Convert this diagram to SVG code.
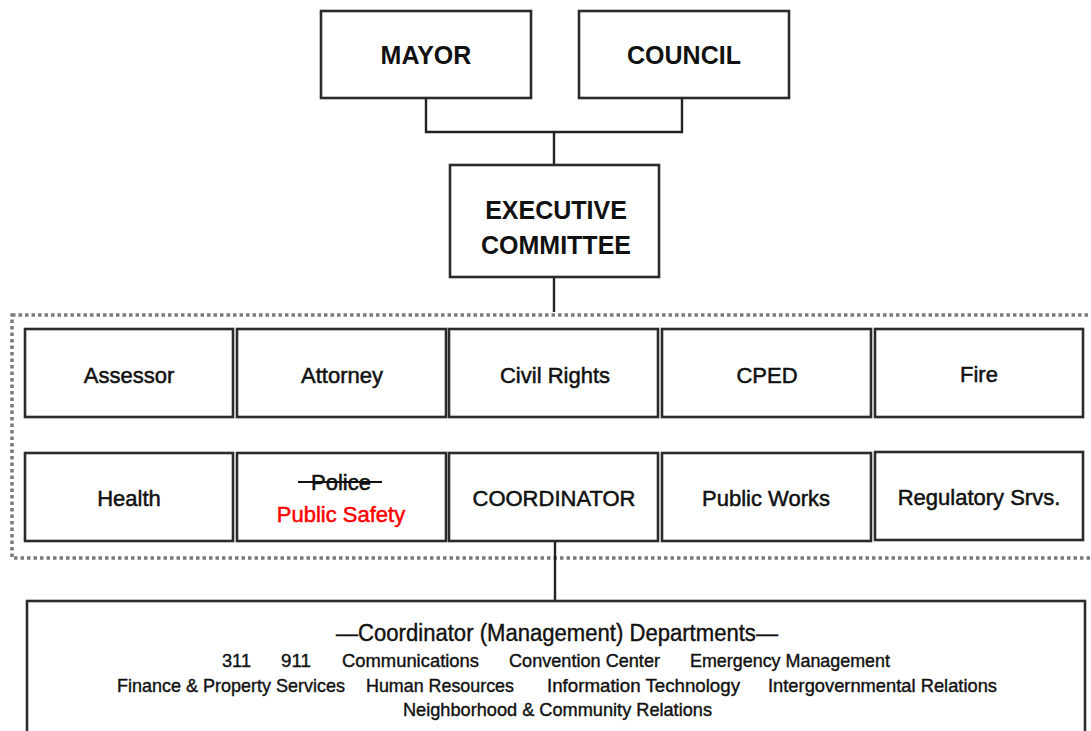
<svg xmlns="http://www.w3.org/2000/svg" width="1091" height="731" viewBox="0 0 1091 731">
<style>
.box{fill:#fff;stroke:#2b2b2b;stroke-width:2.6}
.conn{fill:none;stroke:#222;stroke-width:2.4}
.t{font-family:"Liberation Sans",Arial,sans-serif;font-size:22px;fill:#111;stroke:#111;stroke-width:0.5;text-anchor:middle}
.tb{font-family:"Liberation Sans",Arial,sans-serif;font-size:25px;font-weight:bold;fill:#111;text-anchor:middle}
.c{font-family:"Liberation Sans",Arial,sans-serif;font-size:19px;fill:#111;stroke:#111;stroke-width:0.4;text-anchor:start}
.ct{font-family:"Liberation Sans",Arial,sans-serif;font-size:23px;fill:#111;stroke:#111;stroke-width:0.4;text-anchor:start}
</style>
<rect width="1091" height="731" fill="#fff"/>
<rect x="12" y="315" width="1100" height="243" fill="none" stroke="#7a7a7a" stroke-width="3.5" stroke-dasharray="3.5 3"/>
<g id="connectors">
<polyline class="conn" points="426,98 426,132 682,132 682,98"/>
<line class="conn" x1="554" y1="132" x2="554" y2="165"/>
<line class="conn" x1="554" y1="277" x2="554" y2="312"/>
<line class="conn" x1="555" y1="541" x2="555" y2="601"/>
</g>
<g id="mayor"><rect class="box" x="321" y="11" width="210" height="87"/><text class="tb" x="426" y="64">MAYOR</text></g>
<g id="council"><rect class="box" x="579" y="11" width="210" height="87"/><text class="tb" x="684" y="64">COUNCIL</text></g>
<g id="exec"><rect class="box" x="450" y="165" width="209" height="112"/><text class="tb" x="556" y="219">EXECUTIVE</text><text class="tb" x="556" y="254">COMMITTEE</text></g>
<g id="assessor"><rect class="box" x="25" y="329" width="208" height="88"/><text class="t" x="129" y="383">Assessor</text></g>
<g id="attorney"><rect class="box" x="237" y="329" width="209" height="88"/><text class="t" x="342" y="383">Attorney</text></g>
<g id="civil"><rect class="box" x="449" y="329" width="209" height="88"/><text class="t" x="555" y="383">Civil Rights</text></g>
<g id="cped"><rect class="box" x="662" y="329" width="209" height="88"/><text class="t" x="767" y="383">CPED</text></g>
<g id="fire"><rect class="box" x="875" y="329" width="208" height="88"/><text class="t" x="979" y="382">Fire</text></g>
<g id="health"><rect class="box" x="25" y="453" width="208" height="88"/><text class="t" x="129" y="506">Health</text></g>
<g id="police"><rect class="box" x="237" y="453" width="209" height="88"/><text class="t" x="341" y="490">Police</text><line x1="298" y1="482" x2="382" y2="482" stroke="#111" stroke-width="2"/><text class="t" x="341" y="522" style="fill:#f00;stroke:#f00">Public Safety</text></g>
<g id="coordinator"><rect class="box" x="449" y="453" width="209" height="88"/><text class="t" x="554" y="506">COORDINATOR</text></g>
<g id="publicworks"><rect class="box" x="662" y="453" width="209" height="88"/><text class="t" x="766" y="506">Public Works</text></g>
<g id="regulatory"><rect class="box" x="875" y="452" width="208" height="88"/><text class="t" x="979" y="505">Regulatory Srvs.</text></g>
<g id="coorddepts">
<rect class="box" x="27" y="601" width="1058" height="150"/>
<text class="ct" x="336" y="641" textLength="442" lengthAdjust="spacingAndGlyphs">—Coordinator (Management) Departments—</text>
<text class="c" x="222" y="667" textLength="29" lengthAdjust="spacingAndGlyphs">311</text>
<text class="c" x="281" y="667" textLength="30" lengthAdjust="spacingAndGlyphs">911</text>
<text class="c" x="342" y="667" textLength="137" lengthAdjust="spacingAndGlyphs">Communications</text>
<text class="c" x="509" y="667" textLength="151" lengthAdjust="spacingAndGlyphs">Convention Center</text>
<text class="c" x="690" y="667" textLength="200" lengthAdjust="spacingAndGlyphs">Emergency Management</text>
<text class="c" x="117" y="692" textLength="228" lengthAdjust="spacingAndGlyphs">Finance &amp; Property Services</text>
<text class="c" x="366" y="692" textLength="148" lengthAdjust="spacingAndGlyphs">Human Resources</text>
<text class="c" x="547" y="692" textLength="193" lengthAdjust="spacingAndGlyphs">Information Technology</text>
<text class="c" x="768" y="692" textLength="229" lengthAdjust="spacingAndGlyphs">Intergovernmental Relations</text>
<text class="c" x="403" y="716" textLength="309" lengthAdjust="spacingAndGlyphs">Neighborhood &amp; Community Relations</text>
</g>
</svg>
